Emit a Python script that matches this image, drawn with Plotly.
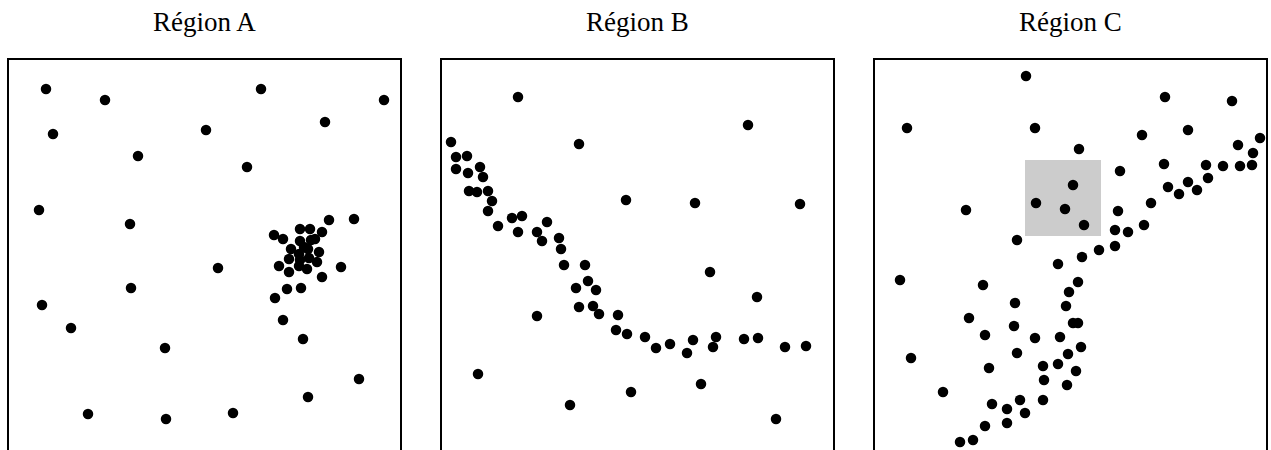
import plotly.graph_objects as go

# Panel titles
titles = ["Région A", "Région B", "Région C"]

# Region A points (arbitrary units, panel spans 0-391 horizontally)
a_x = [37, 96, 252, 375, 316, 44, 197, 129, 238, 30, 121, 320, 345, 209, 122, 33, 62, 156,
       350, 299, 79, 157, 224, 274, 294,
       291, 301, 313, 265, 274, 291, 302, 306, 282, 299, 310, 290, 295, 280, 291, 300, 308,
       270, 280, 290, 298, 332, 313, 278, 292, 266]
a_y = [361, 350, 361, 350, 328, 316, 320, 294, 283, 240, 226, 230, 231, 182, 162, 145, 122, 102,
       71, 53, 36, 31, 37, 130, 111,
       221, 221, 218, 215, 211, 209, 210, 211, 201, 201, 198, 196, 203, 191, 190, 192, 188,
       184, 178, 184, 181, 183, 173, 161, 162, 152]

# Region B points
b_x = [76, 306, 137, 9, 14, 25, 14, 26, 38, 41, 27, 35, 46, 50, 46, 184, 253, 358, 70, 80,
       56, 105, 76, 95, 100, 117, 119, 122, 143, 268, 146, 134, 154, 315, 137, 151, 157, 176,
       95, 174, 185, 203, 214, 228, 245, 251, 271, 274, 302, 316, 343, 364, 36, 259, 189, 128, 334]
b_y = [353, 325, 306, 308, 293, 294, 281, 277, 283, 273, 259, 258, 259, 249, 239, 250, 247, 246, 232, 234,
       224, 228, 218, 218, 209, 212, 201, 185, 185, 178, 169, 162, 160, 153, 143, 144, 136, 135,
       134, 120, 116, 113, 102, 106, 97, 110, 103, 113, 111, 112, 103, 104, 76, 66, 58, 45, 31]

# Region C points
c_x = [151, 290, 357, 32, 160, 267, 313, 385, 363, 378, 204, 289, 331, 348, 365, 377, 245, 333,
       293, 313, 304, 322, 198, 161, 190, 209, 276, 91, 243, 240, 253, 269, 142, 240, 224, 207,
       183, 25, 108, 203, 194, 140, 191, 94, 198, 203, 139, 110, 160, 185, 206, 142, 193, 36,
       114, 168, 183, 201, 169, 192, 68, 168, 117, 132, 145, 150, 110, 132, 98, 85]
c_y = [374, 353, 349, 322, 322, 315, 320, 312, 305, 297, 301, 286, 285, 284, 284, 285, 279, 272,
       263, 268, 256, 260, 265, 247, 241, 225, 247, 240, 239, 220, 218, 225, 210, 204, 200, 193,
       186, 170, 165, 168, 158, 147, 144, 132, 127, 127, 124, 115, 112, 113, 103, 97, 96, 92,
       82, 84, 86, 79, 70, 65, 58, 50, 46, 41, 50, 37, 24, 27, 10, 8]

# Highlight box in Region C: [x0, x1, y0, y1]
c_box = [150, 226, 214, 290]

W, H = 1271, 450
x_range = [0, 391]
y_range = [0, 390.5]
panel_px = [(9, 400), (442, 833), (875, 1266)]
top_px = 59.5

fig = go.Figure()
series = [(a_x, a_y), (b_x, b_y), (c_x, c_y)]
for i, (xs, ys) in enumerate(series):
    sfx = "" if i == 0 else str(i + 1)
    fig.add_trace(go.Scatter(x=xs, y=ys, mode="markers",
                             marker=dict(color="black", size=10.5, line=dict(width=0)),
                             xaxis="x" + sfx, yaxis="y" + sfx, showlegend=False,
                             hoverinfo="skip"))
    x0, x1 = panel_px[i]
    fig.layout["xaxis" + sfx] = dict(domain=[x0 / W, x1 / W], range=x_range,
                                     side="top", showline=True, linecolor="black", linewidth=2,
                                     showgrid=False, zeroline=False, showticklabels=False,
                                     ticks="", anchor="y" + sfx, fixedrange=True)
    fig.layout["yaxis" + sfx] = dict(domain=[0, (H - top_px) / H], range=y_range,
                                     showline=True, mirror=True, linecolor="black", linewidth=2,
                                     showgrid=False, zeroline=False, showticklabels=False,
                                     ticks="", anchor="x" + sfx, fixedrange=True)
    fig.add_annotation(text=titles[i], x=(x0 + x1) / 2 / W, y=1 - 22 / H,
                       xref="paper", yref="paper", showarrow=False,
                       xanchor="center", yanchor="middle",
                       font=dict(family="Liberation Serif", size=27, color="black"))

fig.add_shape(type="rect", xref="x3", yref="y3", x0=c_box[0], x1=c_box[1],
              y0=c_box[2], y1=c_box[3], fillcolor="#cccccc", line=dict(width=0), layer="below")

fig.update_layout(width=W, height=H, margin=dict(l=0, r=0, t=0, b=0),
                  paper_bgcolor="white", plot_bgcolor="white")

# remove the default page margin so the figure fills the window exactly
fig.write_html("out.html", config={"displayModeBar": False},
               post_script="document.body.style.margin='0';document.body.style.overflow='hidden';")
